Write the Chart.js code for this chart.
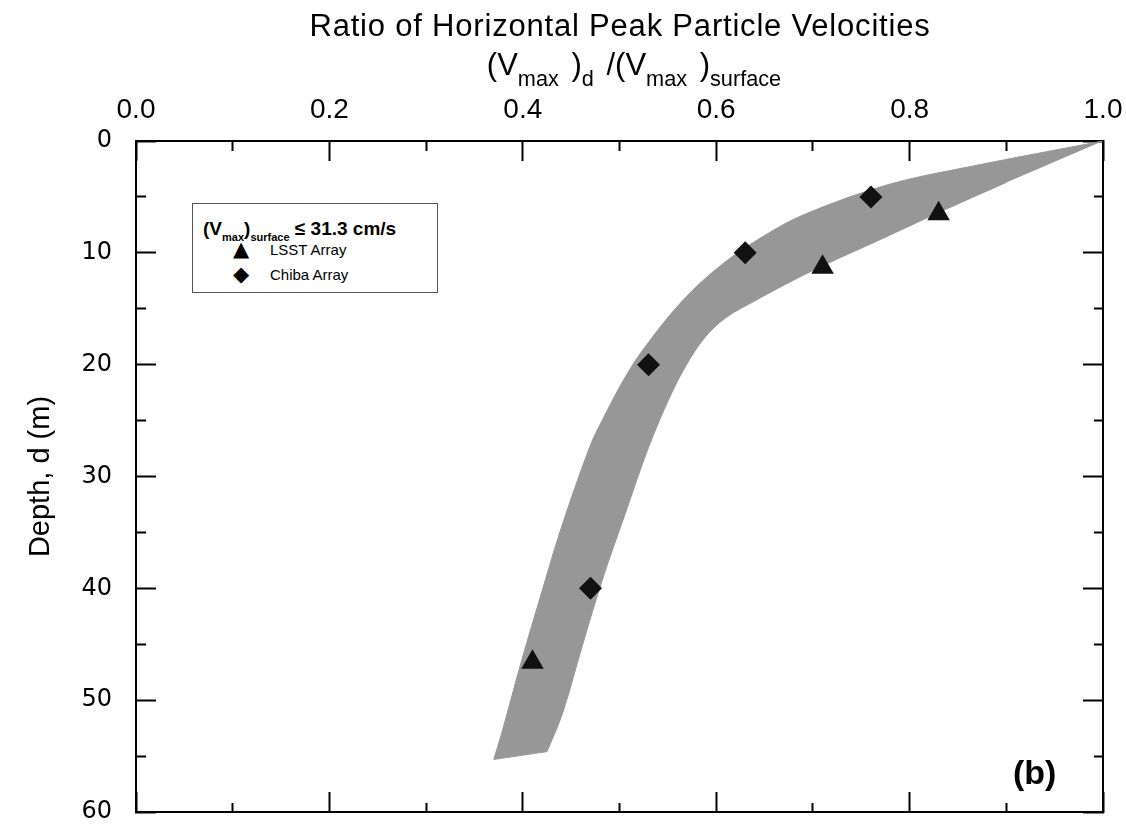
<!DOCTYPE html>
<html>
<head>
<meta charset="utf-8">
<script src="https://cdn.jsdelivr.net/npm/chart.js@4.4.0/dist/chart.umd.min.js"></script>
<style>
  body { margin: 0; background: #fff; color: #000; font-family: 'Liberation Sans', Arial, sans-serif; }
  #wrap { position: relative; width: 1126px; height: 825px; overflow: hidden; }
  #wrap canvas { position: absolute; left: 0; top: 0; }
  .title { position: absolute; left: 120px; width: 1000px; text-align: center; white-space: nowrap; }
  .sub { font-size: 0.58em; position: relative; top: 0.5em; }
  .title .sub { font-size: 0.7em; }
  .legend { position: absolute; left: 192px; top: 203px; width: 244px; height: 88px; border: 1px solid #555; background: #fff; }
  .legend div { position: absolute; white-space: nowrap; }
  .sym { font-family: 'DejaVu Sans', sans-serif; }
</style>
</head>
<body>
<div id="wrap">
  <canvas id="depthChart" width="1126" height="825"></canvas>
  <div class="title" style="top:8px;font-size:31px;letter-spacing:0.8px;">Ratio of Horizontal Peak Particle Velocities</div>
  <div class="title" style="left:134px;top:47px;font-size:31px;word-spacing:4px;">(V<span class="sub">max</span> )<span class="sub">d</span> /(V<span class="sub">max</span> )<span class="sub">surface</span></div>
  <div class="legend">
    <div style="left:10px;top:14px;font-size:19px;font-weight:bold;">(V<span class="sub">max</span>)<span class="sub">surface</span> ≤ 31.3 cm/s</div>
    <div class="sym" style="left:40px;top:33px;font-size:21px;">▲</div>
    <div style="left:77px;top:37px;font-size:15px;">LSST Array</div>
    <div class="sym" style="left:40px;top:58px;font-size:21px;">◆</div>
    <div style="left:77px;top:62px;font-size:15px;">Chiba Array</div>
  </div>
  <div style="position:absolute;left:1013px;top:753px;font-size:34px;font-weight:bold;">(b)</div>
</div>

<script>
// ── Measured points (ratio on x, depth in m on y)
const lsstRatio  = [0.41, 0.71, 0.83];
const lsstDepth  = [46.6, 11.3, 6.5];
const chibaRatio = [0.47, 0.53, 0.63, 0.76];
const chibaDepth = [40, 20, 10, 5];

// ── Gray band: shallow/left edge and deep/right edge, both from the apex at (1.0, 0)
const bandUpperRatio = [1.0, 0.862, 0.778, 0.693, 0.651, 0.608, 0.566, 0.524, 0.504, 0.482, 0.469, 0.439, 0.418, 0.398, 0.379, 0.37];
const bandUpperDepth = [0, 2.3, 3.9, 6.5, 8.4, 10.9, 14.2, 18.7, 21.4, 25.0, 27.4, 34.8, 40.8, 46.7, 52.7, 55.3];
const bandLowerRatio = [1.0, 0.90, 0.83, 0.77, 0.709, 0.672, 0.642, 0.61, 0.588, 0.568, 0.551, 0.53, 0.506, 0.482, 0.461, 0.441, 0.425];
const bandLowerDepth = [0, 3.7, 6.4, 8.8, 11.2, 12.8, 14.2, 15.8, 17.6, 20.2, 23.1, 27.4, 33.3, 39.3, 45.3, 51.2, 54.6];

// ── Axis ranges
const ratioMin = 0, ratioMax = 1, ratioStep = 0.1;
const depthMin = 0, depthMax = 60, depthStep = 5;

const FONT = "'Liberation Sans', Arial, sans-serif";
const toPts = (xs, ys) => xs.map((x, i) => ({ x: x, y: ys[i] }));

// closed outline: down the upper edge, back up the lower edge.
// The two bottom corners are repeated so the smoothing keeps them sharp.
const upperPts = toPts(bandUpperRatio, bandUpperDepth);
const lowerPts = toPts(bandLowerRatio, bandLowerDepth).reverse().slice(0, -1);
const bandOutline = upperPts.concat([upperPts[upperPts.length - 1], lowerPts[0]], lowerPts);

// major ticks are long, minor ones half length (drawn with a dash)
const isMajorX = v => Math.round(v * 10) % 2 === 0;
const isMajorY = v => Math.round(v) % 10 === 0;
const dashInnerFirst = [0, 10, 30, 0];   // tick drawn from inside toward border
const dashBorderFirst = [10, 30];        // tick drawn from border inward

function tickGrid(isMajor, dash) {
  return {
    drawOnChartArea: false,
    color: '#000',
    tickColor: '#000',
    tickWidth: 2,
    tickLength: -20,
    tickBorderDash: c => (c.tick && isMajor(c.tick.value)) ? [] : dash,
  };
}

// fixed box size, and no extra room for the end labels
function fixSize(w, h) {
  return s => {
    if (w !== null) s.width = w;
    if (h !== null) s.height = h;
    s.paddingLeft = s.paddingRight = s.paddingTop = s.paddingBottom = 0;
  };
}

const border = { display: true, color: '#000', width: 2 };

new Chart(document.getElementById('depthChart'), {
  type: 'scatter',
  data: {
    datasets: [
      {
        label: 'LSST Array',
        data: toPts(lsstRatio, lsstDepth),
        order: 0,
        pointStyle: 'triangle',
        pointRadius: 13,
        backgroundColor: '#111',
        borderColor: '#111',
        borderWidth: 0,
        clip: false,
      },
      {
        label: 'Chiba Array',
        data: toPts(chibaRatio, chibaDepth),
        order: 0,
        pointStyle: 'rectRot',
        pointRadius: 11.5,
        backgroundColor: '#111',
        borderColor: '#111',
        borderWidth: 0,
        clip: false,
      },
      {
        label: 'band',
        data: bandOutline,
        order: 5,
        showLine: true,
        fill: 'shape',
        backgroundColor: '#979797',
        borderColor: '#979797',
        borderWidth: 1,
        tension: 0.35,
        pointRadius: 0,
      },
    ],
  },
  options: {
    responsive: false,
    animation: false,
    layout: { autoPadding: false, padding: { left: 0, top: 0, right: 23, bottom: 13 } },
    plugins: { legend: { display: false }, tooltip: { enabled: false } },
    scales: {
      x: {
        type: 'linear', position: 'top', min: ratioMin, max: ratioMax,
        border: border,
        grid: tickGrid(isMajorX, dashInnerFirst),
        ticks: {
          stepSize: ratioStep, autoSkip: false, maxRotation: 0, padding: 34,
          color: '#000', font: { family: FONT, size: 28 },
          callback: v => isMajorX(v) ? v.toFixed(1) : '',
        },
        afterFit: fixSize(null, 141),
      },
      x2: {
        type: 'linear', position: 'bottom', min: ratioMin, max: ratioMax,
        border: border,
        grid: tickGrid(isMajorX, dashBorderFirst),
        ticks: { stepSize: ratioStep, display: false },
        afterFit: fixSize(null, 0),
      },
      y: {
        type: 'linear', position: 'left', reverse: true, min: depthMin, max: depthMax,
        border: border,
        grid: tickGrid(isMajorY, dashInnerFirst),
        ticks: {
          stepSize: depthStep, autoSkip: false, padding: 44,
          color: '#000', font: { family: "'DejaVu Sans', sans-serif", size: 24 },
          callback: v => isMajorY(v) ? String(v) : '',
        },
        title: {
          display: true, text: 'Depth, d (m)', color: '#000',
          font: { family: FONT, size: 29 }, padding: { top: 24, bottom: 0 },
        },
        afterFit: fixSize(136, null),
      },
      y2: {
        type: 'linear', position: 'right', reverse: true, min: depthMin, max: depthMax,
        border: border,
        grid: tickGrid(isMajorY, dashBorderFirst),
        ticks: { stepSize: depthStep, display: false },
        afterFit: fixSize(0, null),
      },
    },
  },
});
</script>
</body>
</html>
